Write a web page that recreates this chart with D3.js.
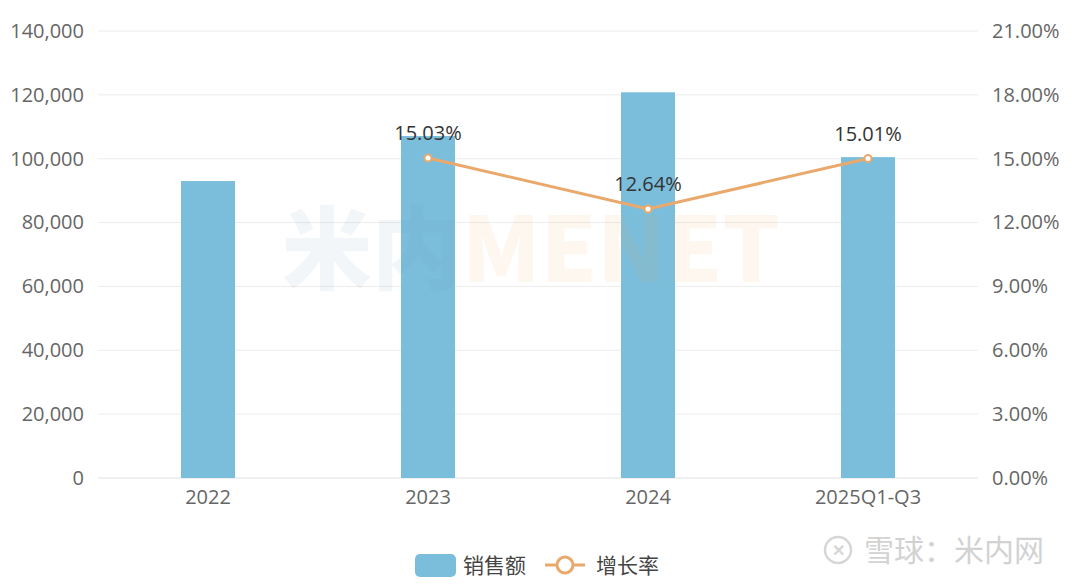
<!DOCTYPE html>
<html><head><meta charset="utf-8">
<script src="https://cdn.jsdelivr.net/npm/d3@7/dist/d3.min.js"></script>
<style>body{margin:0;background:#fff}svg{display:block}</style>
</head><body><svg id="c" width="1080" height="585"></svg>
<script>
const categories = ["2022","2023","2024","2025Q1-Q3"];
const sales = [93000, 107100, 120800, 100500];
const growthCats = ["2023","2024","2025Q1-Q3"];
const growth = [15.03, 12.64, 15.01];
const leftTicks = [0,20000,40000,60000,80000,100000,120000,140000];
const rightTicks = [0,3,6,9,12,15,18,21];

const svg = d3.select("#c");
const font = "'Open Sans','Noto Sans CJK SC',sans-serif";
const L = 98, R = 978, T = 31, B = 478;
const x = d3.scaleBand().domain(categories).range([L,R]).paddingInner(0).paddingOuter(0);
const yL = d3.scaleLinear().domain([0,140000]).range([B,T]);
const yR = d3.scaleLinear().domain([0,21]).range([B,T]);

// grid
svg.append("g").selectAll("line").data(leftTicks).join("line")
  .attr("x1",L).attr("x2",R).attr("y1",d=>yL(d)).attr("y2",d=>yL(d))
  .attr("stroke",d=>d===0?"#e0e0e0":"#ececec").attr("stroke-width",1);

// axes
const axL = d3.axisLeft(yL).tickValues(leftTicks).tickSize(0).tickPadding(14).tickFormat(d3.format(","));
svg.append("g").attr("transform",`translate(${L},0)`).call(axL)
  .call(g=>g.select(".domain").remove())
  .selectAll("text").attr("font-family",font).attr("font-size",20).attr("fill","#666");
const axR = d3.axisRight(yR).tickValues(rightTicks).tickSize(0).tickPadding(14).tickFormat(d=>d3.format(".2f")(d)+"%");
svg.append("g").attr("transform",`translate(${R},0)`).call(axR)
  .call(g=>g.select(".domain").remove())
  .selectAll("text").attr("font-family",font).attr("font-size",20).attr("fill","#666");
const axB = d3.axisBottom(x).tickSize(0).tickPadding(12);
svg.append("g").attr("transform",`translate(0,${B})`).call(axB)
  .call(g=>g.select(".domain").remove())
  .selectAll("text").attr("font-family",font).attr("font-size",20).attr("fill","#666");

// bars
const bw = 54;
svg.append("g").selectAll("rect").data(categories).join("rect")
  .attr("x",(d)=>x(d)+x.bandwidth()/2-bw/2).attr("width",bw)
  .attr("y",(d,i)=>yL(sales[i])).attr("height",(d,i)=>B-yL(sales[i]))
  .attr("fill","#7bbedb");

// watermark (overlaid, translucent)
const wm = svg.append("text").attr("x",282).attr("y",282).attr("font-family","'Noto Sans CJK SC',sans-serif").attr("font-weight",900).attr("font-size",90).attr("textLength",498).attr("lengthAdjust","spacingAndGlyphs");
wm.append("tspan").attr("fill","#6a9fb8").attr("fill-opacity",0.09).text("米内");
wm.append("tspan").attr("fill","#f39a45").attr("fill-opacity",0.08).text("MENET");

// line
const pts = growthCats.map((c,i)=>[x(c)+x.bandwidth()/2, yR(growth[i])]);
svg.append("path").attr("d",d3.line()(pts)).attr("fill","none").attr("stroke","#eaa96c").attr("stroke-width",3);
svg.append("g").selectAll("circle").data(pts).join("circle")
  .attr("cx",d=>d[0]).attr("cy",d=>d[1]).attr("r",3.5)
  .attr("fill","#fff").attr("stroke","#eaa96c").attr("stroke-width",2);
svg.append("g").selectAll("text").data(pts).join("text")
  .attr("x",d=>d[0]).attr("y",d=>d[1]-18).attr("text-anchor","middle")
  .attr("font-family",font).attr("font-size",20).attr("fill","#333")
  .text((d,i)=>growth[i].toFixed(2)+"%");

// legend
const lg = svg.append("g");
lg.append("rect").attr("x",415).attr("y",554).attr("width",41).attr("height",23).attr("rx",5).attr("fill","#7bbedb");
lg.append("text").attr("x",463).attr("y",573).attr("font-family",font).attr("font-size",21).attr("fill","#444").text("销售额");
lg.append("line").attr("x1",545).attr("x2",585).attr("y1",565).attr("y2",565).attr("stroke","#eaa96c").attr("stroke-width",3);
lg.append("circle").attr("cx",565).attr("cy",565).attr("r",8).attr("fill","#fff").attr("stroke","#eaa96c").attr("stroke-width",3);
lg.append("text").attr("x",596).attr("y",573).attr("font-family",font).attr("font-size",21).attr("fill","#444").text("增长率");

// footer watermark
const fw = svg.append("g");
fw.append("circle").attr("cx",838).attr("cy",550).attr("r",13).attr("fill","none").attr("stroke","#d6d6d6").attr("stroke-width",2.5);
fw.append("text").attr("x",838).attr("y",556).attr("text-anchor","middle").attr("font-family",font).attr("font-size",16).attr("font-weight",700).attr("fill","#d6d6d6").text("✕");
fw.append("text").attr("x",864).attr("y",561).attr("font-family","'Noto Sans CJK SC',sans-serif").attr("font-size",30).attr("fill","#d2d2d2").text("雪球：米内网");
</script></body></html>
